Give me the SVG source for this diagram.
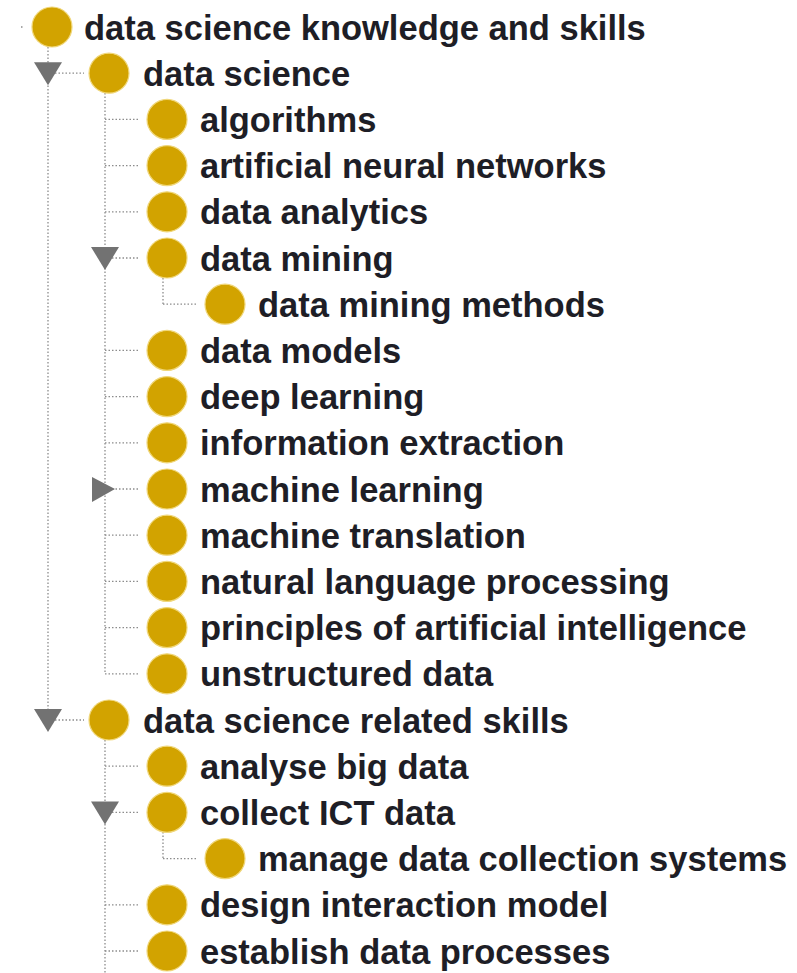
<svg xmlns="http://www.w3.org/2000/svg" width="797" height="973" viewBox="0 0 797 973">
  <defs>
    <style>
      .bg { fill: #ffffff; }
      .dot { fill: #d2a300; stroke: #f0d77a; stroke-width: 1.2; }
      .lbl { font-family: "Liberation Sans", Arial, sans-serif; font-weight: bold; font-size: 34.5px; fill: #1e1e26; }
      .tog { fill: #727272; }
      .guide { stroke: #8c8c8c; stroke-width: 1.3; stroke-dasharray: 1.5 2; fill: none; }
    </style>
  </defs>
  <rect class="bg" x="0" y="0" width="797" height="973"/>

  <!-- tree guide lines -->
  <g id="connectors">
    <!-- stub left of the root -->
    <line class="guide" x1="21" y1="27" x2="23.5" y2="27"/>
    <!-- root level -->
    <line class="guide" x1="48" y1="47" x2="48" y2="720"/>
    <line class="guide" x1="48" y1="73.2" x2="84" y2="73.2"/>
    <line class="guide" x1="48" y1="720" x2="84" y2="720"/>
    <!-- children of "data science" -->
    <line class="guide" x1="105" y1="93" x2="105" y2="673.8"/>
    <line class="guide" x1="105" y1="119.4" x2="140" y2="119.4"/>
    <line class="guide" x1="105" y1="165.6" x2="140" y2="165.6"/>
    <line class="guide" x1="105" y1="211.8" x2="140" y2="211.8"/>
    <line class="guide" x1="105" y1="258" x2="140" y2="258"/>
    <line class="guide" x1="105" y1="350.4" x2="140" y2="350.4"/>
    <line class="guide" x1="105" y1="396.6" x2="140" y2="396.6"/>
    <line class="guide" x1="105" y1="442.8" x2="140" y2="442.8"/>
    <line class="guide" x1="105" y1="489" x2="140" y2="489"/>
    <line class="guide" x1="105" y1="535.2" x2="140" y2="535.2"/>
    <line class="guide" x1="105" y1="581.4" x2="140" y2="581.4"/>
    <line class="guide" x1="105" y1="627.6" x2="140" y2="627.6"/>
    <line class="guide" x1="105" y1="673.8" x2="140" y2="673.8"/>
    <!-- child of "data mining" -->
    <line class="guide" x1="163" y1="278" x2="163" y2="304.2"/>
    <line class="guide" x1="163" y1="304.2" x2="198" y2="304.2"/>
    <!-- children of "data science related skills" -->
    <line class="guide" x1="105" y1="740" x2="105" y2="973"/>
    <line class="guide" x1="105" y1="766.2" x2="140" y2="766.2"/>
    <line class="guide" x1="105" y1="812.4" x2="140" y2="812.4"/>
    <line class="guide" x1="105" y1="904.8" x2="140" y2="904.8"/>
    <line class="guide" x1="105" y1="951" x2="140" y2="951"/>
    <!-- child of "collect ICT data" -->
    <line class="guide" x1="163" y1="832" x2="163" y2="858.6"/>
    <line class="guide" x1="163" y1="858.6" x2="198" y2="858.6"/>
  </g>

  <!-- expand / collapse toggles -->
  <g id="toggles">
    <polygon class="tog" points="34,62.2 62,62.2 48,85.2"/>
    <polygon class="tog" points="91,247 119,247 105,270"/>
    <polygon class="tog" points="92,477 92,502 115,489"/>
    <polygon class="tog" points="34,709 62,709 48,732"/>
    <polygon class="tog" points="91,801.4 119,801.4 105,824.4"/>
  </g>

  <g id="n0"><circle class="dot" cx="52" cy="27" r="20"/><text class="lbl" x="84" y="39.5">data science knowledge and skills</text></g>
  <g id="n1"><circle class="dot" cx="109" cy="73.2" r="20"/><text class="lbl" x="143" y="85.7">data science</text></g>
  <g id="n2"><circle class="dot" cx="167" cy="119.4" r="20"/><text class="lbl" x="200" y="131.9">algorithms</text></g>
  <g id="n3"><circle class="dot" cx="167" cy="165.6" r="20"/><text class="lbl" x="200" y="178.1">artificial neural networks</text></g>
  <g id="n4"><circle class="dot" cx="167" cy="211.8" r="20"/><text class="lbl" x="200" y="224.3">data analytics</text></g>
  <g id="n5"><circle class="dot" cx="167" cy="258" r="20"/><text class="lbl" x="200" y="270.5">data mining</text></g>
  <g id="n6"><circle class="dot" cx="225" cy="304.2" r="20"/><text class="lbl" x="258" y="316.7">data mining methods</text></g>
  <g id="n7"><circle class="dot" cx="167" cy="350.4" r="20"/><text class="lbl" x="200" y="362.9">data models</text></g>
  <g id="n8"><circle class="dot" cx="167" cy="396.6" r="20"/><text class="lbl" x="200" y="409.1">deep learning</text></g>
  <g id="n9"><circle class="dot" cx="167" cy="442.8" r="20"/><text class="lbl" x="200" y="455.3">information extraction</text></g>
  <g id="n10"><circle class="dot" cx="167" cy="489" r="20"/><text class="lbl" x="200" y="501.5">machine learning</text></g>
  <g id="n11"><circle class="dot" cx="167" cy="535.2" r="20"/><text class="lbl" x="200" y="547.7">machine translation</text></g>
  <g id="n12"><circle class="dot" cx="167" cy="581.4" r="20"/><text class="lbl" x="200" y="593.9">natural language processing</text></g>
  <g id="n13"><circle class="dot" cx="167" cy="627.6" r="20"/><text class="lbl" x="200" y="640.1">principles of artificial intelligence</text></g>
  <g id="n14"><circle class="dot" cx="167" cy="673.8" r="20"/><text class="lbl" x="200" y="686.3">unstructured data</text></g>
  <g id="n15"><circle class="dot" cx="109" cy="720" r="20"/><text class="lbl" x="143" y="732.5">data science related skills</text></g>
  <g id="n16"><circle class="dot" cx="167" cy="766.2" r="20"/><text class="lbl" x="200" y="778.7">analyse big data</text></g>
  <g id="n17"><circle class="dot" cx="167" cy="812.4" r="20"/><text class="lbl" x="200" y="824.9">collect ICT data</text></g>
  <g id="n18"><circle class="dot" cx="225" cy="858.6" r="20"/><text class="lbl" x="258" y="871.1">manage data collection systems</text></g>
  <g id="n19"><circle class="dot" cx="167" cy="904.8" r="20"/><text class="lbl" x="200" y="917.3">design interaction model</text></g>
  <g id="n20"><circle class="dot" cx="167" cy="951" r="20"/><text class="lbl" x="200" y="963.5">establish data processes</text></g>
</svg>
